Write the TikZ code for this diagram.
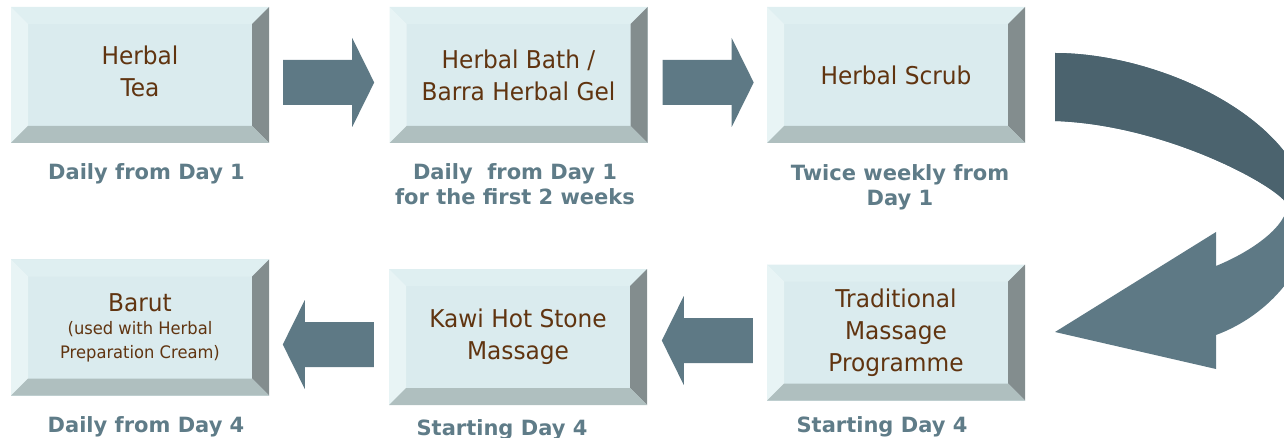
\documentclass[tikz,border=0pt]{standalone}
\usepackage{fontspec}
\usetikzlibrary{calc}
\newfontfamily\dvs{DejaVu Sans}
\newfontfamily\dvc{DejaVu Sans}[FakeStretch=0.95]
\definecolor{face}{RGB}{218,235,238}
\definecolor{bvtop}{RGB}{223,239,241}
\definecolor{bvleft}{RGB}{232,244,245}
\definecolor{bvright}{RGB}{131,141,142}
\definecolor{bvbottom}{RGB}{175,191,191}
\definecolor{txtbrown}{RGB}{96,52,16}
\definecolor{labcol}{RGB}{95,124,136}
\definecolor{arrowcol}{RGB}{94,121,133}
\definecolor{arrowdark}{RGB}{75,99,110}
\tikzset{
  bevelbox/.style={rectangle, minimum width=258pt, minimum height=136pt, inner sep=0pt,
    fill=face, text=txtbrown, align=center, font=\dvc\fontsize{24.5}{32}\selectfont,
    path picture={
      \fill[bvtop] (path picture bounding box.north west) -- (path picture bounding box.north east)
        -- ([shift={(-17pt,-17pt)}]path picture bounding box.north east)
        -- ([shift={(17pt,-17pt)}]path picture bounding box.north west) -- cycle;
      \fill[bvleft] (path picture bounding box.north west) -- (path picture bounding box.south west)
        -- ([shift={(17pt,17pt)}]path picture bounding box.south west)
        -- ([shift={(17pt,-17pt)}]path picture bounding box.north west) -- cycle;
      \fill[bvright] (path picture bounding box.north east) -- (path picture bounding box.south east)
        -- ([shift={(-17pt,17pt)}]path picture bounding box.south east)
        -- ([shift={(-17pt,-17pt)}]path picture bounding box.north east) -- cycle;
      \fill[bvbottom] (path picture bounding box.south west) -- (path picture bounding box.south east)
        -- ([shift={(-17pt,17pt)}]path picture bounding box.south east)
        -- ([shift={(17pt,17pt)}]path picture bounding box.south west) -- cycle;
    }},
  lab/.style={text=labcol, font=\dvs\bfseries\fontsize{21}{25}\selectfont, align=center, inner sep=0pt},
  blockarrow/.pic={\fill[arrowcol] (0,-22.5) -- (69,-22.5) -- (69,-44.5) -- (91,0) -- (69,44.5) -- (69,22.5) -- (0,22.5) -- cycle;}
}
\begin{document}
\begin{tikzpicture}[x=1pt,y=-1pt]
\useasboundingbox (0,0) rectangle (1284,438);
\clip (0,0) rectangle (1284,438);
% boxes
\node[bevelbox] (b1) at (140,75) {Herbal\\Tea\rule[-8pt]{0pt}{8pt}};
\node[bevelbox] (b2) at (518.5,75) {Herbal Bath /\\Barra Herbal Gel};
\node[bevelbox] (b3) at (896,75) {Herbal Scrub};
\node[bevelbox, font=\dvc\fontsize{17.2}{23.5}\selectfont] (b4) at (140,327.5)
  {{\fontsize{24.5}{23.5}\selectfont Barut}\\(used with Herbal\\Preparation Cream)};
\node[bevelbox] (b5) at (518,337) {Kawi Hot Stone\\Massage};
\node[bevelbox] (b6) at (896,332.5) {Traditional\\Massage\\Programme};
% labels
\node[lab, anchor=base] (l1) at (146.5,180) {Daily from Day 1};
\node[lab] (l2) at (515,184.5) {Daily\ \ from Day 1\\for the first 2 weeks};
\node[lab] (l3) at (900,187) {Twice weekly from\\Day 1};
\node[lab, anchor=base] (l4) at (146,432) {Daily from Day 4};
\node[lab, anchor=base] (l5) at (502,435) {Starting Day 4};
\node[lab, anchor=base] (l6) at (882,432) {Starting Day 4};
% straight block arrows
\pic at ($(b1.east)+(14,7.5)$) {blockarrow};
\pic at ($(b2.east)+(15,7.5)$) {blockarrow};
\pic[xscale=-1] at ($(b6.west)+(-14,8)$) {blockarrow};
\pic[xscale=-1] at ($(b5.west)+(-15,7.5)$) {blockarrow};
% curved arrow from b3 to b6
\coordinate (cs) at ($(b3.east)+(30,-22)$);
\def\curvedarrow{(cs) .. controls (1160,53) and (1305,120) .. (1310,215)
  .. controls (1312,265) and (1270,315) .. (1216,335) -- (1216,369) -- (1055,332) -- (1216,232) -- (1216,266)
  .. controls (1255,250) and (1287,225) .. (1287,205)
  .. controls (1284,190) and (1170,125) .. (1055,121) -- cycle}
\fill[arrowcol] \curvedarrow;
\begin{scope}
  \clip (1000,0) rectangle (1300,205);
  \fill[arrowdark] \curvedarrow;
\end{scope}
\end{tikzpicture}
\end{document}
